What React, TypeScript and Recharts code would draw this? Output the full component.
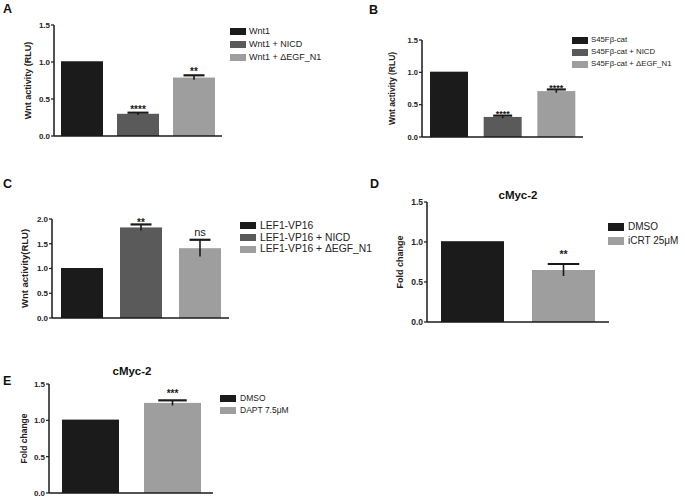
import { Bar, BarChart, Label, Legend, XAxis, YAxis } from 'recharts'

const FONT = '"Liberation Sans", Arial, Helvetica, sans-serif'
const BLACK = '#1b1b1b'
const DARK = '#5a5a5a'
const LIGHT = '#9e9e9e'
const INK = '#1a1a1a'

// A: Wnt1
const catsA = ['Wnt1', 'Wnt1 + NICD', 'Wnt1 + ΔEGF_N1']
const valsA = [1.01, 0.3, 0.79]
const errsA = [0, 0.015, 0.03]
const sigA = ['', '****', '**']

// B: S45F beta-catenin
const catsB = ['S45Fβ-cat', 'S45Fβ-cat + NICD', 'S45Fβ-cat + ΔEGF_N1']
const valsB = [1.01, 0.31, 0.71]
const errsB = [0, 0.02, 0.025]
const sigB = ['', '****', '****']

// C: LEF1-VP16
const catsC = ['LEF1-VP16', 'LEF1-VP16 + NICD', 'LEF1-VP16 + ΔEGF_N1']
const valsC = [1.01, 1.83, 1.41]
const errsC = [0, 0.06, 0.17]
const sigC = ['', '**', 'ns']

// D: cMyc-2, iCRT
const catsD = ['DMSO', 'iCRT 25μM']
const valsD = [1.01, 0.65]
const errsD = [0, 0.075]
const sigD = ['', '**']

// E: cMyc-2, DAPT
const catsE = ['DMSO', 'DAPT 7.5μM']
const valsE = [1.01, 1.24]
const errsE = [0, 0.035]
const sigE = ['', '***']

const ticks15 = [0, 0.5, 1, 1.5]
const ticks20 = [0, 0.5, 1, 1.5, 2]

type Cfg = {
  cats: string[]
  vals: number[]
  errs: number[]
  sig: string[]
  colors: string[]
  ticks: number[]
  yLabel: string
  plot: [number, number, number, number]
  chartRight: number
  barSize: number
  tickFont: number
  labelFont: number
  labelOff: number
  sigFont: number
  sigGap: number
  leg: { x: number; c: number; row: number; font: number; swH: number; gap: number }
}

const panels: Cfg[] = [
  {
    cats: catsA, vals: valsA, errs: errsA, sig: sigA, colors: [BLACK, DARK, LIGHT], ticks: ticks15,
    yLabel: 'Wnt activity (RLU)', plot: [54, 25, 222, 136], chartRight: 340, barSize: 42,
    tickFont: 8, labelFont: 9, labelOff: 23, sigFont: 10, sigGap: 5.7,
    leg: { x: 230, c: 31.7, row: 13, font: 9, swH: 7, gap: 3 },
  },
  {
    cats: catsB, vals: valsB, errs: errsB, sig: sigB, colors: [BLACK, DARK, LIGHT], ticks: ticks15,
    yLabel: 'Wnt activity (RLU)', plot: [422, 40, 583, 137], chartRight: 685, barSize: 38,
    tickFont: 7.5, labelFont: 8.5, labelOff: 27, sigFont: 9, sigGap: 3.5,
    leg: { x: 572, c: 40.3, row: 12, font: 7.8, swH: 7, gap: 3 },
  },
  {
    cats: catsC, vals: valsC, errs: errsC, sig: sigC, colors: [BLACK, DARK, LIGHT], ticks: ticks20,
    yLabel: 'Wnt activity(RLU)', plot: [52, 219, 229, 318], chartRight: 385, barSize: 42,
    tickFont: 8, labelFont: 9.5, labelOff: 24, sigFont: 10, sigGap: 4,
    leg: { x: 240, c: 226, row: 11.8, font: 10.3, swH: 7, gap: 4 },
  },
  {
    cats: catsD, vals: valsD, errs: errsD, sig: sigD, colors: [BLACK, LIGHT], ticks: ticks15,
    yLabel: 'Fold change', plot: [427, 202, 609, 322], chartRight: 685, barSize: 63,
    tickFont: 8.5, labelFont: 9, labelOff: 24, sigFont: 10.5, sigGap: 12,
    leg: { x: 608, c: 227.5, row: 13.3, font: 10, swH: 8, gap: 4 },
  },
  {
    cats: catsE, vals: valsE, errs: errsE, sig: sigE, colors: [BLACK, LIGHT], ticks: ticks15,
    yLabel: 'Fold change', plot: [49, 384, 213, 493], chartRight: 340, barSize: 57,
    tickFont: 8, labelFont: 8.5, labelOff: 22, sigFont: 10, sigGap: 9,
    leg: { x: 220, c: 398.7, row: 11.7, font: 8.5, swH: 7, gap: 4 },
  },
]

function BarErr(props: any) {
  const { x, y, width, height, index, payload, cfg } = props
  const unit = height / payload.value
  const e = payload.err * unit
  const cx = x + width / 2
  const capW = width * 0.5
  const top = y - e
  const isNs = payload.sig === 'ns'
  const sy = isNs ? top - 4 : top - cfg.sigGap + 0.57 * cfg.sigFont
  return (
    <g>
      <rect x={x} y={y} width={width} height={height} fill={cfg.colors[index]} />
      {payload.err > 0 && (
        <g stroke={INK}>
          <line x1={cx} x2={cx} y1={y + e} y2={top} strokeWidth={1.6} />
          <line x1={cx - capW / 2} x2={cx + capW / 2} y1={top} y2={top} strokeWidth={2.2} />
        </g>
      )}
      {payload.sig && (
        <text
          x={cx}
          y={sy}
          textAnchor="middle"
          fontFamily={FONT}
          fontWeight={isNs ? 400 : 700}
          fontSize={isNs ? 11 : cfg.sigFont}
          fill={INK}
        >
          {payload.sig}
        </text>
      )}
    </g>
  )
}

function LegendBox({ cfg }: { cfg: Cfg }) {
  const l = cfg.leg
  return (
    <div style={{ fontFamily: FONT, fontSize: l.font, color: '#222' }}>
      {cfg.cats.map((c, i) => (
        <div key={c} style={{ display: 'flex', alignItems: 'center', height: l.row }}>
          <span style={{ width: 16, height: l.swH, background: cfg.colors[i], marginRight: l.gap, flex: 'none' }} />
          <span style={{ whiteSpace: 'nowrap', lineHeight: 1 }}>{c}</span>
        </div>
      ))}
    </div>
  )
}

function Panel({ cfg }: { cfg: Cfg }) {
  const [pl, pt, pr, pb] = cfg.plot
  const x0 = pl - 50
  const y0 = pt - 8
  const w = cfg.chartRight - x0
  const h = pb - y0 + 10
  const data = cfg.cats.map((c, i) => ({ name: c, value: cfg.vals[i], err: cfg.errs[i], sig: cfg.sig[i] }))
  const yMax = cfg.ticks[cfg.ticks.length - 1]
  const lx = 50 - cfg.labelOff
  const ly = 8 + (pb - pt) / 2
  return (
    <div style={{ position: 'absolute', left: x0, top: y0 }}>
      <BarChart width={w} height={h} data={data} margin={{ top: 8, left: 10, bottom: 4, right: w - (pr - x0) }}>
        <XAxis
          dataKey="name"
          height={6}
          tick={false}
          tickSize={3}
          axisLine={{ stroke: INK, strokeWidth: 1.5 }}
          tickLine={{ stroke: INK, strokeWidth: 1 }}
        />
        <YAxis
          width={40}
          domain={[0, yMax]}
          ticks={cfg.ticks}
          tickSize={3}
          tickMargin={1}
          tickFormatter={(v: number) => v.toFixed(1)}
          axisLine={{ stroke: INK, strokeWidth: 1.5 }}
          tickLine={{ stroke: INK, strokeWidth: 1.2 }}
          tick={{ fill: '#222', fontSize: cfg.tickFont, fontWeight: 700, fontFamily: FONT }}
        >
          <Label
            content={() => (
              <text
                x={lx}
                y={ly}
                transform={`rotate(-90 ${lx} ${ly})`}
                textAnchor="middle"
                fontFamily={FONT}
                fontWeight={700}
                fontSize={cfg.labelFont}
                fill="#222"
              >
                {cfg.yLabel}
              </text>
            )}
          />
        </YAxis>
        <Legend
          layout="vertical"
          align="center"
          verticalAlign="middle"
          content={() => <LegendBox cfg={cfg} />}
          wrapperStyle={{ left: cfg.leg.x - x0, top: cfg.leg.c - cfg.leg.row / 2 - y0, width: 'auto', height: 'auto' }}
        />
        <Bar dataKey="value" barSize={cfg.barSize} isAnimationActive={false} shape={(p: any) => <BarErr {...p} cfg={cfg} />} />
      </BarChart>
    </div>
  )
}

export default function App() {
  return (
    <div style={{ position: 'absolute', left: 0, top: 0, width: 685, height: 498, overflow: 'hidden', background: '#fff' }}>
      {panels.map((p, i) => (
        <Panel key={i} cfg={p} />
      ))}
      <svg width={685} height={498} style={{ position: 'absolute', left: 0, top: 0, pointerEvents: 'none' }}>
        <g fontFamily={FONT} fontWeight={700} fill="#111" fontSize={12.5}>
          <text x={3} y={13}>A</text>
          <text x={369} y={14}>B</text>
          <text x={3} y={188}>C</text>
          <text x={370} y={188}>D</text>
          <text x={3} y={385}>E</text>
        </g>
        <g fontFamily={FONT} fontWeight={700} fill="#111" fontSize={11.5} textAnchor="middle">
          <text x={518} y={198.5}>cMyc-2</text>
          <text x={132} y={375}>cMyc-2</text>
        </g>
      </svg>
    </div>
  )
}
